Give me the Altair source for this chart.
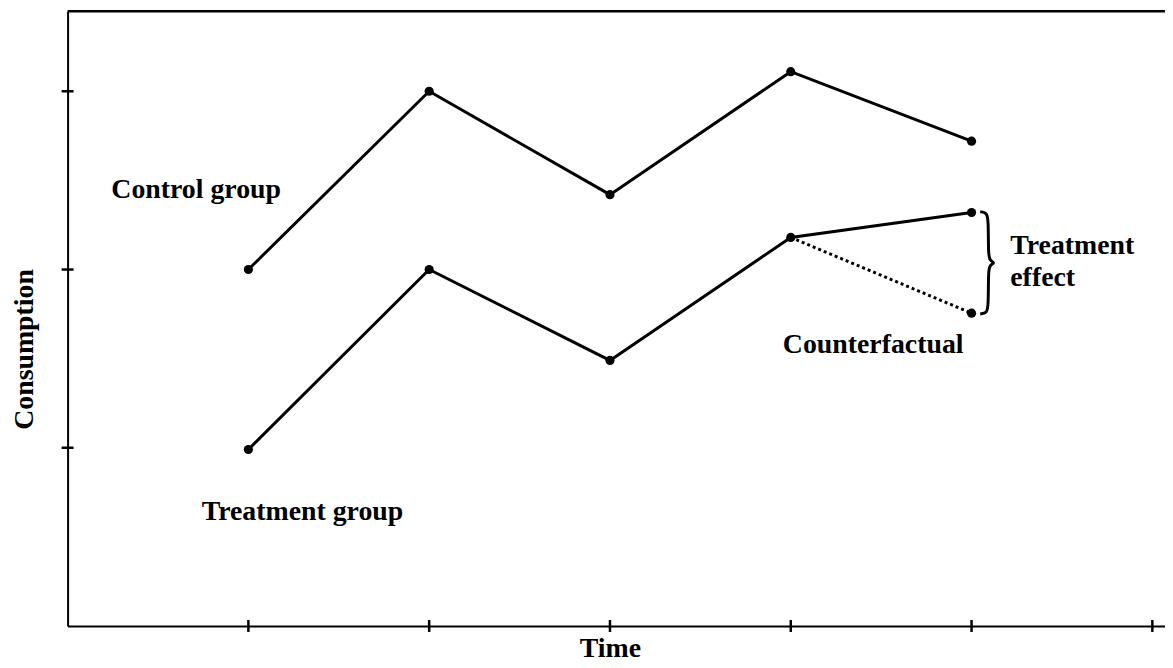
import altair as alt
import pandas as pd

# ---- data ----
time = [1, 2, 3, 4, 5]
control = [2.0, 3.0, 2.42, 3.11, 2.72]
treatment = [0.99, 2.0, 1.49, 2.18, 2.32]
cf_time = [4, 5]
counterfactual = [2.18, 1.755]
x_ticks = [1, 2, 3, 4, 5, 6]
y_ticks = [1, 2, 3]
X_MAX = 6.07
Y_MAX = 3.449

W, H = 1105, 619
FONT = "Liberation Serif"
FS = 28
BLACK = "#000000"

xs = alt.Scale(domain=[0, X_MAX], nice=False, zero=False)
ys = alt.Scale(domain=[0, Y_MAX], nice=False, zero=False)

x_axis = alt.Axis(ticks=False, labels=False, grid=False, domain=True,
                  domainColor=BLACK, domainWidth=2, title="Time",
                  titleFont=FONT, titleFontSize=FS, titleFontWeight="bold",
                  titleColor=BLACK, titleX=546, titleY=31,
                  titleBaseline="alphabetic", titleAlign="center")
y_axis = alt.Axis(ticks=False, labels=False, grid=False, domain=True,
                  domainColor=BLACK, domainWidth=2, title="Consumption",
                  titleFont=FONT, titleFontSize=FS, titleFontWeight="bold",
                  titleColor=BLACK, titleX=-35, titleY=340, titleAngle=270,
                  titleBaseline="alphabetic", titleAlign="center")


def X(field):
    return alt.X(field, scale=xs, axis=x_axis)


def Y(field):
    return alt.Y(field, scale=ys, axis=y_axis)


lines_df = pd.DataFrame({
    "t": time + time,
    "v": control + treatment,
    "g": ["Control"] * len(time) + ["Treatment"] * len(time),
})
cf_df = pd.DataFrame({"t": cf_time, "v": counterfactual})
pts_df = pd.concat([lines_df[["t", "v"]],
                    pd.DataFrame({"t": [cf_time[-1]], "v": [counterfactual[-1]]})])

lines = alt.Chart(lines_df).mark_line(color=BLACK, strokeWidth=3).encode(
    x=X("t:Q"), y=Y("v:Q"), detail="g:N",
)
cf_line = alt.Chart(cf_df).mark_line(color=BLACK, strokeWidth=3, strokeDash=[3, 3]).encode(
    x=X("t:Q"), y=Y("v:Q"),
)
points = alt.Chart(pts_df).mark_circle(color=BLACK, size=85, opacity=1).encode(
    x=X("t:Q"), y=Y("v:Q"),
)

# axis ticks crossing the axis lines
xt = alt.Chart(pd.DataFrame({"t": x_ticks, "v": [0] * len(x_ticks)})).mark_tick(
    color=BLACK, orient="vertical", size=12, thickness=2.5, opacity=1).encode(
    x=X("t:Q"), y=Y("v:Q"),
)
yt = alt.Chart(pd.DataFrame({"t": [0] * len(y_ticks), "v": y_ticks})).mark_tick(
    color=BLACK, orient="horizontal", size=12, thickness=2.5, opacity=1).encode(
    x=X("t:Q"), y=Y("v:Q"),
)
# top frame line
top = alt.Chart(pd.DataFrame({"t": [0], "b": [X_MAX], "v": [Y_MAX]})).mark_rule(
    color=BLACK, strokeWidth=2.5).encode(
    x=X("t:Q"), x2="b:Q", y=Y("v:Q"),
)

# brace built from the treatment end and the counterfactual end
t_end = time[-1]
top_v = treatment[-1]
bot_v = counterfactual[-1]
mid_v = (top_v + bot_v) / 2
bx = [0.048, 0.085, 0.093, 0.093, 0.100, 0.132, 0.100, 0.093, 0.093, 0.085, 0.048]
by = [top_v + 0.004, top_v, top_v - 0.045, mid_v + 0.05, mid_v + 0.012, mid_v,
      mid_v - 0.012, mid_v - 0.05, bot_v + 0.045, bot_v, bot_v - 0.004]
brace_df = pd.DataFrame({"t": [t_end + d for d in bx], "v": by, "o": list(range(len(bx)))})
brace = alt.Chart(brace_df).mark_line(color=BLACK, strokeWidth=3, interpolate="basis").encode(
    x=X("t:Q"), y=Y("v:Q"), order="o:Q",
)


def label(text, t, v, dx, dy, align="left"):
    return alt.Chart(pd.DataFrame({"t": [t], "v": [v], "s": [text]})).mark_text(
        font=FONT, fontSize=FS, fontWeight="bold", color=BLACK,
        align=align, baseline="alphabetic", dx=dx, dy=dy).encode(
        x=X("t:Q"), y=Y("v:Q"), text="s:N",
    )


labels = [
    label("Control group", time[0], control[0], -138, -72),
    label("Treatment group", time[0], treatment[0], -47, 71),
    label("Treatment", t_end, mid_v, 39, -9),
    label("effect", t_end, mid_v, 39, 23),
    label("Counterfactual", cf_time[-1], counterfactual[-1], -190, 40),
]

chart = alt.layer(lines, cf_line, points, xt, yt, top, brace, *labels).properties(
    width=W, height=H,
    autosize=alt.AutoSizeParams(type="none"),
    padding={"left": 60, "top": 1, "right": 0, "bottom": 38},
    background="white",
).configure_view(stroke=None)

chart.save("out.html", embed_options={"renderer": "svg", "actions": False})
